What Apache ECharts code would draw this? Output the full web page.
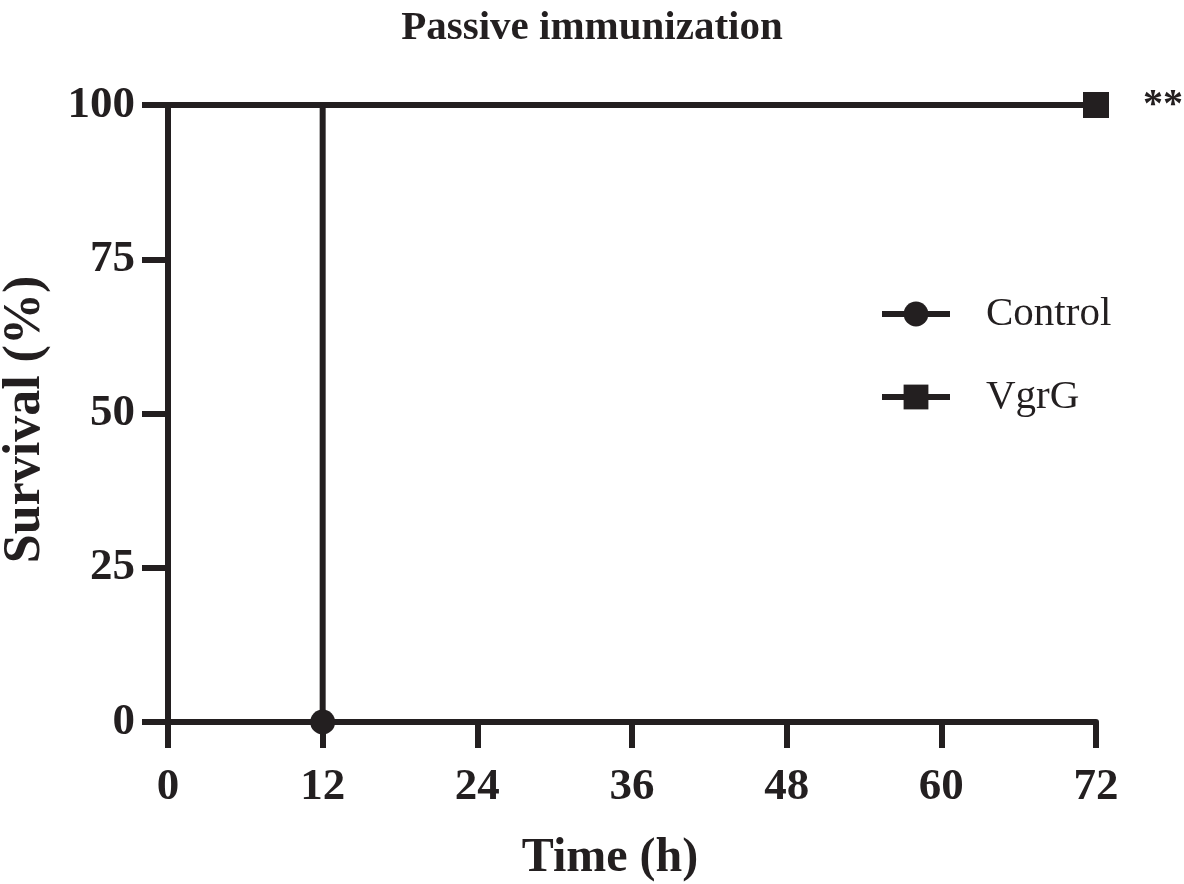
<!DOCTYPE html>
<html>
<head>
<meta charset="utf-8">
<script src="https://cdn.jsdelivr.net/npm/echarts@6/dist/echarts.min.js"></script>
<style>
html,body{margin:0;padding:0;background:#fff;}
#chart{width:1184px;height:884px;}
</style>
</head>
<body>
<div id="chart"></div>
<script>
const xTicks = [0, 12, 24, 36, 48, 60, 72];
const yTicks = [0, 25, 50, 75, 100];
const controlTimes = [0, 12];
const controlSurvival = [100, 0];
const vgrgTimes = [0, 72];
const vgrgSurvival = [100, 100];
const seriesNames = ['Control', 'VgrG'];
const significance = '**';

const INK = '#231f20';
const FONT = '"Liberation Serif", "Times New Roman", serif';
const LW = 6;

function buildData(times, values, label) {
  return times.map((t, i) => {
    const last = i === times.length - 1;
    const item = { value: [t, values[i]] };
    if (!last) item.symbol = 'none';
    if (last && label) {
      item.label = {
        show: true, position: 'right', distance: 34,
        formatter: label, fontFamily: FONT, fontWeight: 'bold',
        fontSize: 40, color: INK, offset: [0, 1]
      };
    }
    return item;
  });
}

const chart = echarts.init(document.getElementById('chart'), null, { renderer: 'canvas' });
chart.setOption({
  animation: false,
  backgroundColor: '#fff',
  title: {
    text: 'Passive immunization',
    left: 'center',
    top: 3,
    textStyle: { fontFamily: FONT, fontWeight: 'bold', fontSize: 41, color: INK }
  },
  grid: { left: 168, right: 88, top: 105, bottom: 162, containLabel: false, outerBoundsMode: 'none' },
  legend: {
    orient: 'vertical',
    left: 874,
    top: 287,
    itemWidth: 68,
    itemHeight: 31,
    itemGap: 39,
    data: seriesNames,
    lineStyle: { width: LW },
    textStyle: { fontFamily: FONT, fontSize: 41, color: INK, padding: [0, 0, 0, 31], lineHeight: 44 }
  },
  xAxis: {
    type: 'value',
    min: xTicks[0],
    max: xTicks[xTicks.length - 1],
    interval: 12,
    name: 'Time (h)',
    nameLocation: 'middle',
    nameGap: 113,
    nameTextStyle: { fontFamily: FONT, fontWeight: 'bold', fontSize: 48, color: INK, padding: [0, 44, 0, 0] },
    axisLine: { show: true, lineStyle: { color: INK, width: LW } },
    axisTick: { show: true, length: 26, lineStyle: { color: INK, width: LW } },
    axisLabel: { margin: 43, fontFamily: FONT, fontWeight: 'bold', fontSize: 45, color: INK },
    splitLine: { show: false }
  },
  yAxis: {
    type: 'value',
    min: yTicks[0],
    max: yTicks[yTicks.length - 1],
    interval: 25,
    name: 'Survival (%)',
    nameLocation: 'middle',
    nameGap: 116,
    nameTextStyle: { fontFamily: FONT, fontWeight: 'bold', fontSize: 52, color: INK, padding: [0, 12, 0, 0] },
    axisLine: { show: true, lineStyle: { color: INK, width: LW } },
    axisTick: { show: true, length: 26, lineStyle: { color: INK, width: LW } },
    axisLabel: { margin: 33, fontFamily: FONT, fontWeight: 'bold', fontSize: 45, color: INK },
    splitLine: { show: false }
  },
  series: [
    {
      name: seriesNames[0],
      type: 'line',
      step: 'end',
      symbol: 'circle',
      symbolSize: 25,
      showSymbol: true,
      lineStyle: { color: INK, width: LW },
      itemStyle: { color: INK },
      data: buildData(controlTimes, controlSurvival, null),
      z: 3
    },
    {
      name: seriesNames[1],
      type: 'line',
      step: 'end',
      symbol: 'rect',
      symbolSize: 26,
      showSymbol: true,
      lineStyle: { color: INK, width: LW },
      itemStyle: { color: INK },
      data: buildData(vgrgTimes, vgrgSurvival, significance),
      z: 3
    }
  ]
});
</script>
</body>
</html>
